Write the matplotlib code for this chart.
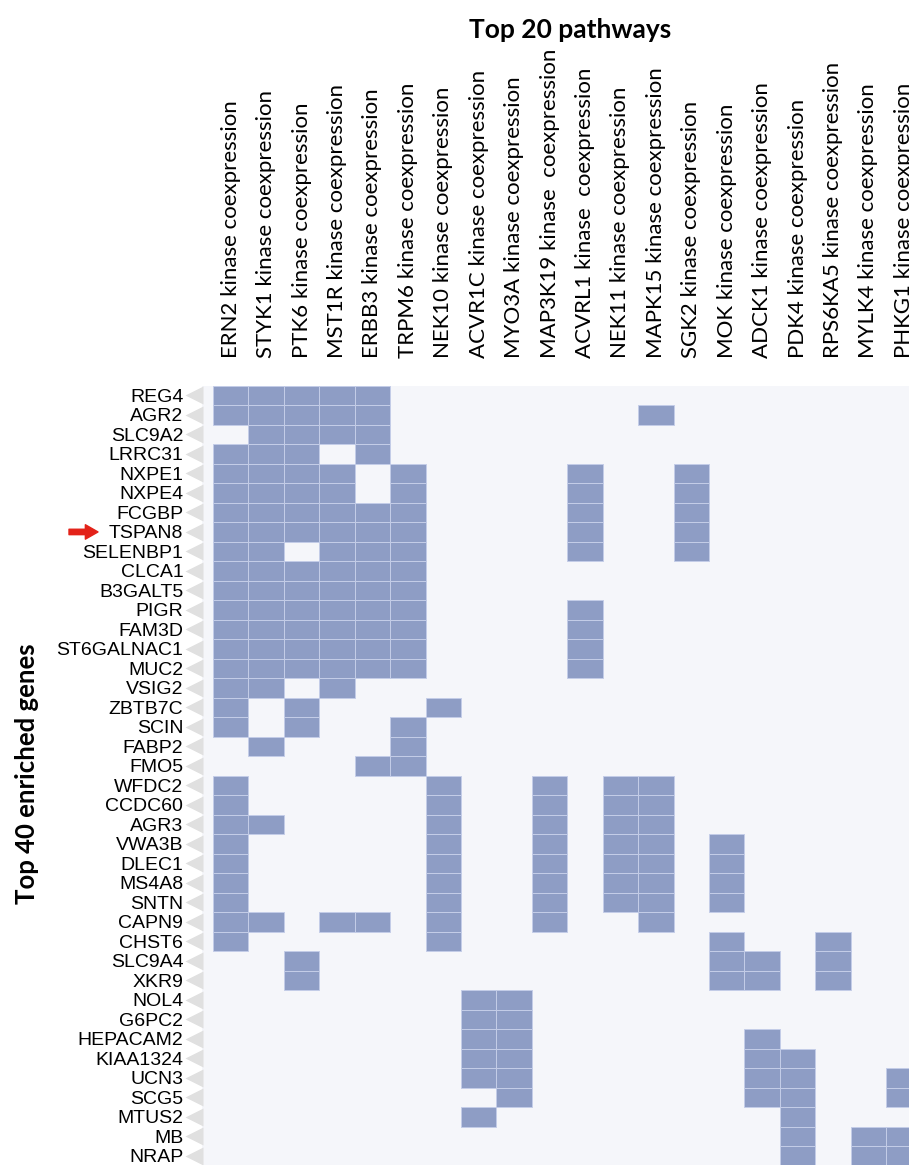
import matplotlib.pyplot as plt
import numpy as np

# Гены (строки) и пути (столбцы)
genes = ['REG4', 'AGR2', 'SLC9A2', 'LRRC31', 'NXPE1', 'NXPE4', 'FCGBP', 'TSPAN8',
         'SELENBP1', 'CLCA1', 'B3GALT5', 'PIGR', 'FAM3D', 'ST6GALNAC1', 'MUC2',
         'VSIG2', 'ZBTB7C', 'SCIN', 'FABP2', 'FMO5', 'WFDC2', 'CCDC60', 'AGR3',
         'VWA3B', 'DLEC1', 'MS4A8', 'SNTN', 'CAPN9', 'CHST6', 'SLC9A4', 'XKR9',
         'NOL4', 'G6PC2', 'HEPACAM2', 'KIAA1324', 'UCN3', 'SCG5', 'MTUS2', 'MB', 'NRAP']

kinases = ['ERN2', 'STYK1', 'PTK6', 'MST1R', 'ERBB3', 'TRPM6', 'NEK10', 'ACVR1C',
           'MYO3A', 'MAP3K19', 'ACVRL1', 'NEK11', 'MAPK15', 'SGK2', 'MOK', 'ADCK1',
           'PDK4', 'RPS6KA5', 'MYLK4', 'PHKG1']
# пара подписей в оригинале с двойным пробелом
pathways = [k + ' kinase coexpression' for k in kinases]
pathways[9] = 'MAP3K19 kinase  coexpression'
pathways[10] = 'ACVRL1 kinase  coexpression'

# 1 = ген входит в путь
hits = [
    '11111000000000000000',  # REG4
    '11111000000010000000',  # AGR2
    '01111000000000000000',  # SLC9A2
    '11101000000000000000',  # LRRC31
    '11110100001001000000',  # NXPE1
    '11110100001001000000',  # NXPE4
    '11111100001001000000',  # FCGBP
    '11111100001001000000',  # TSPAN8
    '11011100001001000000',  # SELENBP1
    '11111100000000000000',  # CLCA1
    '11111100000000000000',  # B3GALT5
    '11111100001000000000',  # PIGR
    '11111100001000000000',  # FAM3D
    '11111100001000000000',  # ST6GALNAC1
    '11111100001000000000',  # MUC2
    '11010000000000000000',  # VSIG2
    '10100010000000000000',  # ZBTB7C
    '10100100000000000000',  # SCIN
    '01000100000000000000',  # FABP2
    '00001100000000000000',  # FMO5
    '10000010010110000000',  # WFDC2
    '10000010010110000000',  # CCDC60
    '11000010010110000000',  # AGR3
    '10000010010110100000',  # VWA3B
    '10000010010110100000',  # DLEC1
    '10000010010110100000',  # MS4A8
    '10000010010110100000',  # SNTN
    '11011010010010000000',  # CAPN9
    '10000010000000100100',  # CHST6
    '00100000000000110100',  # SLC9A4
    '00100000000000110100',  # XKR9
    '00000001100000000000',  # NOL4
    '00000001100000000000',  # G6PC2
    '00000001100000010000',  # HEPACAM2
    '00000001100000011000',  # KIAA1324
    '00000001100000011001',  # UCN3
    '00000000100000011001',  # SCG5
    '00000001000000001000',  # MTUS2
    '00000000000000001011',  # MB
    '00000000000000001011',  # NRAP
]

marked_gene = 'TSPAN8'

mat = np.array([[int(c) for c in row] for row in hits])

W, H = 909, 1165
fig = plt.figure(figsize=(W / 100, H / 100), dpi=100)

# Ось выходит за правый и нижний край, как на обрезанном оригинале
left_px, right_px, top_px, bottom_px = 202, 921.6, 385.7, 1165.7
ax = fig.add_axes([left_px / W, 1 - bottom_px / H,
                   (right_px - left_px) / W, (bottom_px - top_px) / H])
ax.set_facecolor('#f5f6fa')
for s in ax.spines.values():
    s.set_visible(False)

# Закрашенные клетки: рисуем только попадания, по столбцам
rows, cols = np.nonzero(mat)
ax.bar(cols, 1, bottom=rows - 0.5, width=1, color='#8e9dc5',
       edgecolor='#c4cde8', linewidth=0.7)

cell_w = (right_px - 213) / 20
ax.set_xlim(-0.5 - (213 - left_px) / cell_w, 19.5)
ax.set_ylim(39.5, -0.5)

# Подписи строк
ax.set_yticks(range(len(genes)))
ax.set_yticklabels(genes, family='Liberation Sans', fontsize=14)
ax.tick_params(axis='y', length=0, pad=13.5)

# Подписи столбцов сверху
ax.xaxis.tick_top()
ax.set_xticks(range(len(pathways)))
ax.set_xticklabels(pathways, rotation=90, family='Lato', fontsize=16,
                   ha='center', va='bottom')
ax.tick_params(axis='x', length=0, pad=20)

# Серые треугольники у подписей генов
tri_x = -0.5 - (213 - 193.5) / cell_w
ax.plot([tri_x] * len(genes), range(len(genes)), ls='none', marker='<',
        ms=13.5, color='#e0e0e0', mec='none', clip_on=False)

# Заголовки
fig.text(570 / W, 1 - 30 / H, 'Top 20 pathways', ha='center', va='center',
         family='Lato', fontweight='bold', fontsize=19)
fig.text(27 / W, 1 - 774 / H, 'Top 40 enriched genes', ha='center', va='center',
         rotation=90, family='Lato', fontweight='bold', fontsize=18.5)

# Красная стрелка у выделенного гена
yi = genes.index(marked_gene)
ax.annotate('', xy=(-0.5 - (213 - 98) / cell_w, yi),
            xytext=(-0.5 - (213 - 69) / cell_w, yi),
            annotation_clip=False,
            arrowprops=dict(arrowstyle='simple,head_width=0.8,head_length=0.7,tail_width=0.3',
                            color='#e32219', mutation_scale=13, shrinkA=0, shrinkB=0))

fig.savefig('out.png', dpi=100, facecolor='white')
